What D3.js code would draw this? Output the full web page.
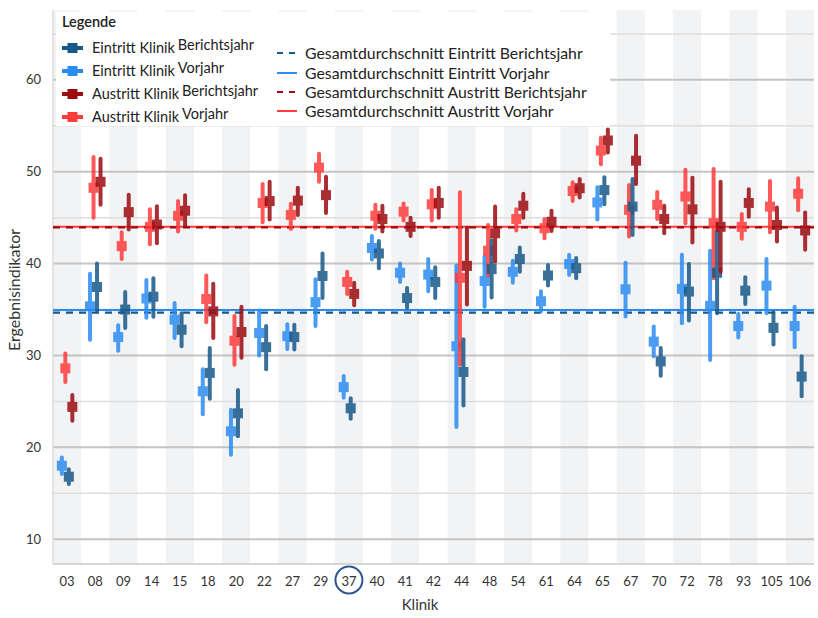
<!DOCTYPE html>
<html>
<head>
<meta charset="utf-8">
<script src="https://cdn.jsdelivr.net/npm/d3@7/dist/d3.min.js"></script>
<style>
  body { margin: 0; background: #fff; }
  svg { font-family: Lato, "Noto Sans", sans-serif; }
</style>
</head>
<body>
<div id="chart"></div>
<script>
// Kliniken (x-Achse)
const kliniken = ['03', '08', '09', '14', '15', '18', '20', '22', '27', '29', '37', '40', '41', '42',
    '44', '48', '54', '61', '64', '65', '67', '70', '72', '78', '93', '105', '106'];
const markierteKlinik = '37';

// je Klinik: [Wert, unteres KI, oberes KI]
const eintrittVorjahr = [
    [18.0, 17.1, 18.9], [35.35, 31.7, 38.9], [32.0, 30.5, 33.3], [36.2, 34.1, 38.2], [33.9, 31.9, 35.7],
    [26.1, 23.6, 28.5], [21.75, 19.2, 24.1], [32.45, 30.0, 34.9], [32.1, 30.7, 33.4], [35.8, 33.2, 38.3],
    [26.55, 25.4, 27.75], [41.7, 40.45, 43.0], [39.0, 38.0, 40.0], [38.8, 37.0, 40.5], [31.0, 22.2, 39.8],
    [38.1, 35.3, 40.8], [39.1, 37.9, 40.3], [35.9, 34.8, 37.0], [39.95, 38.75, 40.95], [46.65, 44.8, 48.3],
    [37.2, 34.25, 40.1], [31.5, 29.9, 33.15], [37.25, 33.5, 40.95], [35.4, 29.5, 41.4], [33.2, 31.95, 34.5],
    [37.6, 34.6, 40.5], [33.2, 30.9, 35.3]
];
const eintrittBerichtsjahr = [
    [16.8, 16.0, 17.6], [37.45, 34.9, 40.0], [35.0, 33.0, 36.9], [36.4, 34.2, 38.4], [32.8, 31.0, 34.6],
    [28.1, 25.3, 30.8], [23.7, 21.2, 26.25], [30.9, 28.5, 33.2], [32.0, 30.65, 33.35], [38.65, 36.25, 41.1],
    [24.25, 23.1, 25.35], [41.1, 39.5, 42.45], [36.25, 35.2, 37.35], [38.0, 36.25, 39.6], [28.2, 24.55, 31.75],
    [39.4, 36.3, 42.55], [40.5, 39.1, 41.75], [38.7, 37.6, 39.85], [39.5, 38.4, 40.6], [48.0, 46.45, 49.4],
    [46.2, 43.1, 49.2], [29.35, 27.8, 30.8], [36.95, 33.8, 39.95], [39.0, 34.6, 43.5], [37.05, 35.6, 38.5],
    [33.0, 31.2, 34.7], [27.7, 25.55, 29.9]
];
const austrittVorjahr = [
    [28.6, 27.1, 30.2], [48.25, 45.0, 51.6], [41.9, 40.5, 43.4], [44.0, 42.1, 45.9], [45.2, 43.5, 46.8],
    [36.15, 33.6, 38.7], [31.6, 29.0, 34.3], [46.6, 44.5, 48.65], [45.3, 43.75, 46.5], [50.45, 48.9, 51.95],
    [38.0, 36.7, 39.1], [45.2, 43.8, 46.4], [45.65, 44.7, 46.55], [46.45, 44.7, 48.0], [38.45, 29.0, 47.75],
    [41.4, 38.7, 44.2], [44.85, 43.6, 45.9], [43.85, 42.75, 44.85], [47.9, 46.8, 48.85], [52.3, 50.8, 53.7],
    [45.85, 42.95, 48.55], [46.4, 44.85, 47.8], [47.3, 44.4, 50.2], [44.4, 38.4, 50.3], [44.0, 42.7, 45.4],
    [46.2, 43.4, 49.0], [47.6, 45.8, 49.3]
];
const austrittBerichtsjahr = [
    [24.4, 22.9, 25.7], [48.9, 46.4, 51.4], [45.6, 43.7, 47.5], [44.25, 42.2, 46.25], [45.75, 44.1, 47.45],
    [34.8, 31.9, 37.8], [32.55, 29.75, 35.3], [46.8, 44.8, 48.9], [46.85, 45.3, 48.25], [47.45, 45.5, 49.45],
    [36.7, 35.45, 37.9], [44.85, 43.5, 46.3], [44.0, 43.0, 45.0], [46.6, 45.0, 48.25], [39.75, 35.55, 43.9],
    [43.3, 40.2, 46.2], [46.3, 45.0, 47.6], [44.55, 43.55, 45.75], [48.2, 47.2, 49.2], [53.4, 52.1, 54.6],
    [51.2, 48.65, 53.9], [44.85, 43.3, 46.3], [45.9, 42.3, 49.35], [44.0, 39.1, 48.9], [46.6, 45.1, 48.1],
    [44.2, 42.4, 46.1], [43.6, 41.5, 45.55]
];

// Gesamtdurchschnitte
const durchschnittNamen = ['Gesamtdurchschnitt Eintritt Berichtsjahr', 'Gesamtdurchschnitt Eintritt Vorjahr',
    'Gesamtdurchschnitt Austritt Berichtsjahr', 'Gesamtdurchschnitt Austritt Vorjahr'];
const durchschnittWerte = [34.65, 34.95, 43.95, 44.0];

const yTicks = [10, 20, 30, 40, 50, 60];
const yMinorTicks = [15, 25, 35, 45, 55, 65];

const width = 818;
const height = 618;
const plot = { left: 53, right: 814, top: 10, bottom: 564 };

const colors = {
    ev: '#2b8cf0',
    eb: '#17598a',
    av: '#ff3b3b',
    ab: '#9c0b10'
};

const series = [
    { key: 'ev', label: 'Eintritt Klinik', jahr: 'Vorjahr', data: eintrittVorjahr },
    { key: 'av', label: 'Austritt Klinik', jahr: 'Vorjahr', data: austrittVorjahr },
    { key: 'eb', label: 'Eintritt Klinik', jahr: 'Berichtsjahr', data: eintrittBerichtsjahr },
    { key: 'ab', label: 'Austritt Klinik', jahr: 'Berichtsjahr', data: austrittBerichtsjahr }
];

const svg = d3.select('#chart')
    .append('svg')
    .attr('width', width)
    .attr('height', height);

const xScale = d3.scaleBand()
    .domain(kliniken)
    .range([plot.left, plot.right]);

const dodge = d3.scalePoint()
    .domain(series.map(s => s.key))
    .range([-5.25, 5.25]);

const yScale = d3.scaleLinear()
    .domain([7.3, 67.6])
    .range([plot.bottom, plot.top]);

// Streifen
svg.append('g')
    .selectAll('rect')
    .data(kliniken)
    .join('rect')
    .attr('x', d => xScale(d))
    .attr('y', plot.top)
    .attr('width', xScale.bandwidth())
    .attr('height', plot.bottom - plot.top)
    .attr('fill', (d, i) => i % 2 === 0 ? '#f2f3f5' : '#ffffff');

// Gitterlinien
svg.append('g')
    .selectAll('line')
    .data(yMinorTicks)
    .join('line')
    .attr('x1', plot.left)
    .attr('x2', plot.right)
    .attr('y1', d => yScale(d))
    .attr('y2', d => yScale(d))
    .attr('stroke', '#dedede')
    .attr('stroke-width', 1.5);

svg.append('g')
    .selectAll('line')
    .data(yTicks)
    .join('line')
    .attr('x1', plot.left)
    .attr('x2', plot.right)
    .attr('y1', d => yScale(d))
    .attr('y2', d => yScale(d))
    .attr('stroke', '#c4c4c4')
    .attr('stroke-width', 2);

// Achsenlinien
svg.append('line')
    .attr('x1', plot.left).attr('x2', plot.right)
    .attr('y1', plot.bottom).attr('y2', plot.bottom)
    .attr('stroke', '#d6d6d6').attr('stroke-width', 2);
svg.append('line')
    .attr('x1', plot.left).attr('x2', plot.left)
    .attr('y1', plot.top).attr('y2', plot.bottom)
    .attr('stroke', '#dcdcdc').attr('stroke-width', 1.5);

// Durchschnittslinien
const avgStyle = [
    { color: colors.eb, dash: '7,6', width: 2.2 },
    { color: colors.ev, dash: null, width: 2 },
    { color: colors.ab, dash: '7,6', width: 2.2 },
    { color: colors.av, dash: null, width: 2 }
];
const avgOrder = [1, 0, 3, 2];
svg.append('g')
    .selectAll('line')
    .data(avgOrder)
    .join('line')
    .attr('x1', plot.left)
    .attr('x2', plot.right)
    .attr('y1', i => yScale(durchschnittWerte[i]))
    .attr('y2', i => yScale(durchschnittWerte[i]))
    .attr('stroke', i => avgStyle[i].color)
    .attr('stroke-width', i => avgStyle[i].width)
    .attr('stroke-dasharray', i => avgStyle[i].dash);

// Punkte mit Konfidenzintervall
const markSize = 10;
for (const s of series) {
    const g = svg.append('g').classed('serie-' + s.key, true);
    const pts = g.selectAll('g')
        .data(s.data.map((d, i) => ({ klinik: kliniken[i], wert: d[0], lo: d[1], hi: d[2] })))
        .join('g')
        .attr('opacity', 0.85)
        .attr('transform', d => `translate(${xScale(d.klinik) + xScale.bandwidth() / 2 + dodge(s.key)},0)`);

    pts.append('line')
        .attr('y1', d => yScale(d.lo))
        .attr('y2', d => yScale(d.hi))
        .attr('stroke', colors[s.key])
        .attr('stroke-width', 4)
        .attr('stroke-linecap', 'round');

    pts.append('rect')
        .attr('x', -markSize / 2)
        .attr('y', d => yScale(d.wert) - markSize / 2)
        .attr('width', markSize)
        .attr('height', markSize)
        .attr('fill', colors[s.key]);
}

// Achsenbeschriftung
svg.append('g')
    .selectAll('text')
    .data(yTicks)
    .join('text')
    .attr('x', 41)
    .attr('y', d => yScale(d))
    .attr('dy', '0.35em')
    .attr('text-anchor', 'end')
    .attr('font-size', 13)
    .attr('fill', '#333')
    .text(d => d);

svg.append('g')
    .selectAll('text')
    .data(kliniken)
    .join('text')
    .attr('x', d => xScale(d) + xScale.bandwidth() / 2)
    .attr('y', 581)
    .attr('dy', '0.35em')
    .attr('text-anchor', 'middle')
    .attr('font-size', 13)
    .attr('fill', '#333')
    .text(d => d);

svg.append('circle')
    .attr('cx', xScale(markierteKlinik) + xScale.bandwidth() / 2)
    .attr('cy', 580)
    .attr('r', 13.5)
    .attr('fill', 'none')
    .attr('stroke', '#2c568f')
    .attr('stroke-width', 2);

svg.append('text')
    .attr('x', 420)
    .attr('y', 605)
    .attr('dy', '0.35em')
    .attr('text-anchor', 'middle')
    .attr('font-size', 15)
    .attr('fill', '#333')
    .text('Klinik');

svg.append('text')
    .attr('transform', 'translate(14,290) rotate(-90)')
    .attr('dy', '0.35em')
    .attr('text-anchor', 'middle')
    .attr('font-size', 16)
    .attr('fill', '#333')
    .text('Ergebnisindikator');

// Legende
const legend = svg.append('g');
legend.append('rect')
    .attr('x', 56).attr('y', 12)
    .attr('width', 554).attr('height', 114)
    .attr('fill', '#fff');
legend.append('text')
    .attr('x', 62).attr('y', 22)
    .attr('dy', '0.35em')
    .attr('font-size', 14.5)
    .attr('font-weight', 600)
    .attr('fill', '#222')
    .text('Legende');

const legendSeries = [series[2], series[0], series[3], series[1]];
const rowY = [48, 71, 94, 117];
legendSeries.forEach((s, i) => {
    const y = rowY[i];
    legend.append('line')
        .attr('x1', 62).attr('x2', 83)
        .attr('y1', y).attr('y2', y)
        .attr('stroke', colors[s.key])
        .attr('stroke-width', 4);
    legend.append('rect')
        .attr('x', 67.5).attr('y', y - 5)
        .attr('width', 10).attr('height', 10)
        .attr('fill', colors[s.key]);
    const t = legend.append('text')
        .attr('x', 92).attr('y', y)
        .attr('dy', '0.35em')
        .attr('font-size', 14.5)
        .attr('fill', '#222')
        .text(s.label);
    const w = t.node().getComputedTextLength();
    legend.append('text')
        .attr('x', 92 + w + 3).attr('y', y - 3)
        .attr('dy', '0.35em')
        .attr('font-size', 14.5)
        .attr('fill', '#222')
        .text(s.jahr);
});

const avgRowY = [53, 73, 92, 111];
durchschnittNamen.forEach((name, i) => {
    const y = avgRowY[i];
    legend.append('line')
        .attr('x1', 277).attr('x2', 297)
        .attr('y1', y).attr('y2', y)
        .attr('stroke', avgStyle[i].color)
        .attr('stroke-width', 2)
        .attr('stroke-dasharray', avgStyle[i].dash ? '6,6' : null);
    legend.append('text')
        .attr('x', 305).attr('y', y)
        .attr('dy', '0.35em')
        .attr('font-size', 15.8)
        .attr('fill', '#222')
        .text(name);
});
</script>
</body>
</html>
